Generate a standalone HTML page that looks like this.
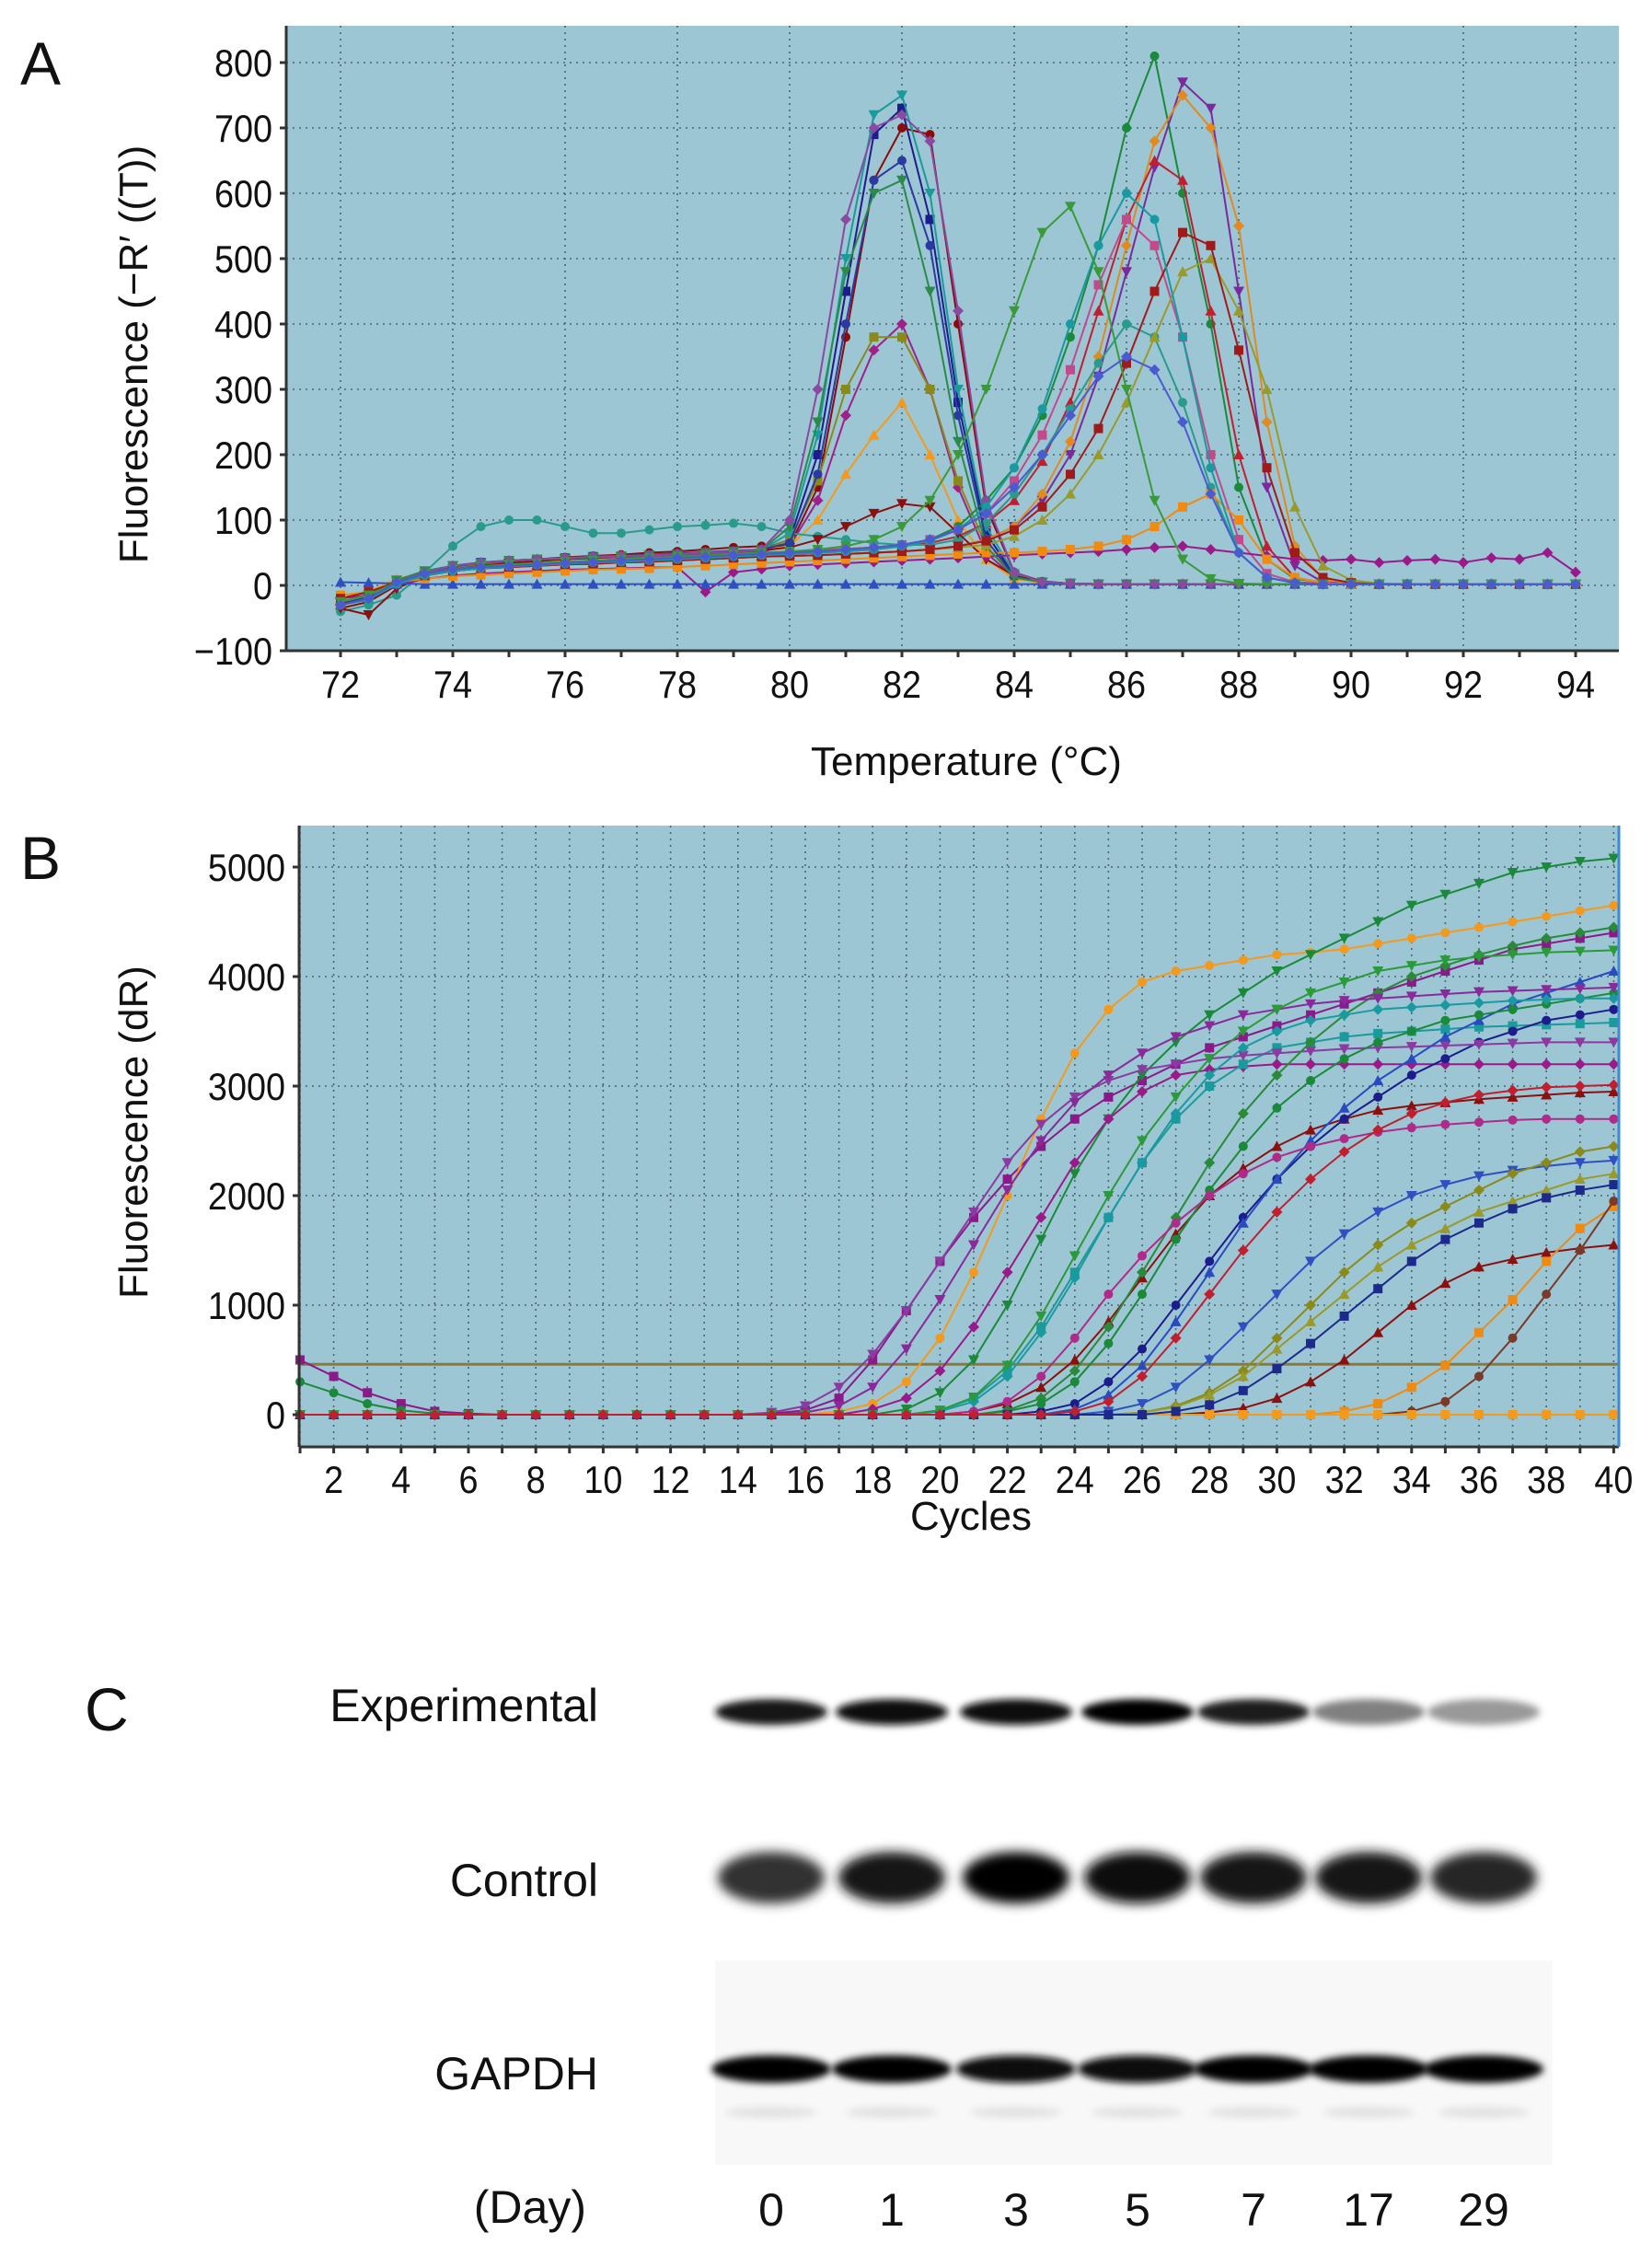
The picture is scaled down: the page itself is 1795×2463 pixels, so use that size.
<!DOCTYPE html>
<html><head><meta charset="utf-8">
<style>
html,body{margin:0;padding:0;background:#fff;}
body{width:1795px;height:2458px;position:relative;overflow:hidden;font-family:"Liberation Sans",sans-serif;}
svg text{font-family:"Liberation Sans",sans-serif;fill:#111;}
</style></head>
<body>
<svg id="fig" width="1795" height="2458" viewBox="0 0 1795 2458" xmlns="http://www.w3.org/2000/svg">
  <defs>
    <filter id="blur3" x="-20%" y="-50%" width="140%" height="200%"><feGaussianBlur stdDeviation="4"/></filter>
    <filter id="blur6" x="-20%" y="-50%" width="140%" height="200%"><feGaussianBlur stdDeviation="6"/></filter>
  </defs>
  <text x="22" y="92" font-size="66">A</text>
  <text x="22" y="955" font-size="66">B</text>
  <text x="92" y="1880" font-size="66">C</text>
  <g id="chartA"></g>
  <g id="chartB"></g>
  <g id="blot"></g>
</svg>
<script>
// ---------- Chart A data (melt curves) ----------
const tempStart = 72, tempStep = 0.5;
const tickA_x = [72,74,76,78,80,82,84,86,88,90,92,94];
const tickA_y = [-100,0,100,200,300,400,500,600,700,800];
const meltColors = ['#1c1c8c','#8b0a0a','#1a9a9a','#a0208a','#f39a1e','#8a8a1a','#1a8a3a','#7a2a9a','#e08a20','#c01f2f','#c04a8a','#2a9a8a','#8b1010','#9a1a8a','#3050c0','#f08a10','#2a3aa0','#2a8a4a','#8a4aa0','#9a9a2a','#a01a1a','#1a9aa0','#3a9a3a','#4a5ad0'];
const melt1 = [-30,-20,5,20,30,35,38,40,42,44,45,46,48,50,52,55, 70,200,450,690,730,560,280,80,15,5,3,2,2,2,2,2,2,2,2,2,2,2,2,2,2,2,2,2,2];
const melt2 = [-35,-25,0,18,28,33,36,40,43,45,47,50,52,55,58,60, 60,150,380,620,700,690,400,120,20,6,3,2,2,2,2,2,2,2,2,2,2,2,2,2,2,2,2,2,2];
const melt3 = [-25,-15,8,22,30,34,38,40,41,43,44,46,47,50,52,54, 80,230,500,720,750,600,300,90,18,5,3,2,2,2,2,2,2,2,2,2,2,2,2,2,2,2,2,2,2];
const melt4 = [-30,-20,4,18,28,32,35,38,40,42,43,45,46,48,50,52, 60,130,260,360,400,300,150,50,12,4,2,2,2,2,2,2,2,2,2,2,2,2,2,2,2,2,2,2,2];
const melt5 = [-20,-10,10,20,28,32,35,38,40,42,44,46,48,50,52,54, 60,100,170,230,280,200,100,40,10,4,2,2,2,2,2,2,2,2,2,2,2,2,2,2,2,2,2,2,2];
const melt6 = [-28,-18,5,20,28,33,36,39,41,43,45,46,48,50,52,54, 70,160,300,380,380,300,160,60,15,5,2,2,2,2,2,2,2,2,2,2,2,2,2,2,2,2,2,2,2];
const melt7 = [-30,-20,5,18,25,28,30,32,34,36,38,40,42,44,46,48, 50,52,55,58,62,70,90,130,180,260,380,520,700,810,600,400,150,40,10,5,3,2,2,2,2,2,2,2,2];
const melt8 = [-25,-15,5,15,22,26,28,30,32,33,35,36,38,40,42,44, 45,46,48,50,52,55,60,70,90,130,200,320,480,640,770,730,450,150,30,5,3,2,2,2,2,2,2,2,2];
const melt9 = [-20,-10,5,15,22,26,28,30,32,33,35,36,38,40,42,44, 45,46,48,50,52,55,60,70,90,140,220,350,520,680,750,700,550,250,60,10,3,2,2,2,2,2,2,2,2];
const melt10 = [-30,-22,2,15,22,26,29,31,33,35,36,38,40,42,44,46, 48,50,52,55,60,65,75,95,130,190,280,420,560,650,620,420,200,60,12,4,2,2,2,2,2,2,2,2,2];
const melt11 = [-25,-15,5,18,25,29,32,34,36,38,40,42,44,46,48,50, 52,54,56,58,62,70,85,110,160,230,330,460,560,520,380,200,70,18,5,3,2,2,2,2,2,2,2,2,2];
const melt12 = [-40,-30,-15,20,60,90,100,100,90,80,80,85,90,92,95,90, 80,75,70,65,62,62,70,95,140,200,270,340,400,380,280,150,50,12,4,2,2,2,2,2,2,2,2,2,2];
const melt13 = [-35,-45,-5,15,25,30,34,37,40,42,44,46,48,50,52,54, 58,70,90,110,125,120,80,40,15,5,3,2,2,2,2,2,2,2,2,2,2,2,2,2,2,2,2,2,2];
const melt14 = [-20,-15,0,10,15,18,20,22,24,25,26,27,28,-10,20,25, 30,32,34,36,38,40,42,44,46,48,50,52,55,58,60,55,50,45,40,38,40,35,38,40,35,42,40,50,20];
const melt15 = [5,4,3,2,2,2,2,2,2,2,2,2,2,2,2,2, 2,2,2,2,2,2,2,2,2,2,2,2,2,2,2,2,2,2,2,2,2,2,2,2,2,2,2,2,2];
const melt16 = [-15,-10,5,10,14,16,18,20,22,24,25,26,28,30,32,34, 36,38,40,42,44,46,48,50,50,52,55,60,70,90,120,140,100,40,12,4,2,2,2,2,2,2,2,2,2];
const melt17 = [-28,-18,6,20,29,34,37,40,42,44,45,47,49,51,53,55, 65,170,400,620,650,520,260,70,14,5,3,2,2,2,2,2,2,2,2,2,2,2,2,2,2,2,2,2,2];
const melt18 = [-25,-15,8,22,30,34,38,40,41,43,44,46,47,50,52,54, 90,250,480,600,620,450,220,60,12,5,3,2,2,2,2,2,2,2,2,2,2,2,2,2,2,2,2,2,2];
const melt19 = [-30,-20,5,20,30,35,38,40,42,44,45,46,48,50,52,55, 100,300,560,700,720,680,420,130,20,5,3,2,2,2,2,2,2,2,2,2,2,2,2,2,2,2,2,2,2];
const melt20 = [-25,-15,5,15,22,26,28,30,32,33,35,36,38,40,42,44, 45,46,48,50,52,55,58,62,75,100,140,200,280,380,480,500,420,300,120,30,8,3,2,2,2,2,2,2,2];
const melt21 = [-20,-10,5,15,22,26,28,30,32,33,35,36,38,40,42,44, 45,46,48,50,52,55,60,68,85,120,170,240,340,450,540,520,360,180,50,12,4,2,2,2,2,2,2,2,2];
const melt22 = [-30,-22,2,15,22,26,29,31,33,35,36,38,40,42,44,46, 48,50,52,55,60,68,85,120,180,270,400,520,600,560,380,180,50,12,4,2,2,2,2,2,2,2,2,2,2];
const melt23 = [-25,-15,5,18,25,29,32,34,36,38,40,42,44,46,48,50, 52,55,60,70,90,130,200,300,420,540,580,480,300,130,40,10,3,2,2,2,2,2,2,2,2,2,2,2,2];
const melt24 = [-30,-20,5,18,25,28,30,32,34,36,38,40,42,44,46,48, 50,52,55,58,62,70,85,110,150,200,260,320,350,330,250,140,50,12,4,2,2,2,2,2,2,2,2,2,2];
const meltSeries = [melt1,melt2,melt3,melt4,melt5,melt6,melt7,melt8,melt9,melt10,melt11,melt12,melt13,melt14,melt15,melt16,melt17,melt18,melt19,melt20,melt21,melt22,melt23,melt24];

// ---------- Chart B data (amplification curves) ----------
const tickB_x = [2,4,6,8,10,12,14,16,18,20,22,24,26,28,30,32,34,36,38,40];
const tickB_y = [0,1000,2000,3000,4000,5000];
const thresholdValue = 460;
const ampColors = ['#8a1a8a','#f39a1e','#1a8a3a','#9a1a8a','#8b1010','#1a9a9a','#1c1c8c','#3050c0','#8a8a1a','#8b1010','#f08a10','#7a3a2a','#8a3aa0','#2a8a3a','#2a4ac0','#f39a1e','#1a8a3a','#8a2a9a','#1a9aa0','#9a9a2a','#1c2a8c','#b02a8a','#2a9a3a','#c01f2f'];
const amp1 = [500,350,200,100,30,10,0,0,0,0,0,0,0,0,10,40,150,500,950,1400,1800,2150,2450,2700,2900,3050,3200,3350,3450,3550,3650,3750,3850,3950,4050,4150,4250,4300,4350,4400];
const amp2 = [0,0,0,0,0,0,0,0,0,0,0,0,0,0,0,0,30,100,300,700,1300,2000,2700,3300,3700,3950,4050,4100,4150,4200,4220,4250,4300,4350,4400,4450,4500,4550,4600,4650];
const amp3 = [0,0,0,0,0,0,0,0,0,0,0,0,0,0,0,0,0,0,50,200,500,1000,1600,2200,2700,3100,3400,3650,3850,4050,4200,4350,4500,4650,4750,4850,4950,5000,5050,5080];
const amp4 = [0,0,0,0,0,0,0,0,0,0,0,0,0,0,0,0,0,50,150,400,800,1300,1800,2300,2700,2950,3100,3150,3180,3200,3200,3200,3200,3200,3200,3200,3200,3200,3200,3200];
const amp5 = [0,0,0,0,0,0,0,0,0,0,0,0,0,0,0,0,0,0,0,0,30,100,250,500,850,1250,1650,2000,2250,2450,2600,2700,2780,2820,2850,2880,2900,2920,2940,2950];
const amp6 = [0,0,0,0,0,0,0,0,0,0,0,0,0,0,0,0,0,0,0,40,150,400,800,1300,1800,2300,2700,3000,3200,3350,3400,3450,3480,3500,3520,3540,3550,3560,3570,3580];
const amp7 = [0,0,0,0,0,0,0,0,0,0,0,0,0,0,0,0,0,0,0,0,0,0,30,100,300,600,1000,1400,1800,2150,2450,2700,2900,3100,3250,3400,3500,3600,3650,3700];
const amp8 = [0,0,0,0,0,0,0,0,0,0,0,0,0,0,0,0,0,0,0,0,0,0,0,0,30,100,250,500,800,1100,1400,1650,1850,2000,2100,2180,2230,2270,2300,2320];
const amp9 = [0,0,0,0,0,0,0,0,0,0,0,0,0,0,0,0,0,0,0,0,0,0,0,0,0,20,80,200,400,700,1000,1300,1550,1750,1900,2050,2200,2300,2400,2450];
const amp10 = [0,0,0,0,0,0,0,0,0,0,0,0,0,0,0,0,0,0,0,0,0,0,0,0,0,0,0,20,60,150,300,500,750,1000,1200,1350,1420,1480,1520,1550];
const amp11 = [0,0,0,0,0,0,0,0,0,0,0,0,0,0,0,0,0,0,0,0,0,0,0,0,0,0,0,0,0,0,0,30,100,250,450,750,1050,1400,1700,1900];
const amp12 = [0,0,0,0,0,0,0,0,0,0,0,0,0,0,0,0,0,0,0,0,0,0,0,0,0,0,0,0,0,0,0,0,0,30,120,350,700,1100,1500,1950];
const amp13 = [0,0,0,0,0,0,0,0,0,0,0,0,0,0,20,80,250,550,950,1400,1850,2300,2650,2900,3050,3150,3200,3250,3280,3300,3320,3340,3350,3360,3370,3380,3390,3400,3400,3400];
const amp14 = [0,0,0,0,0,0,0,0,0,0,0,0,0,0,0,0,0,0,0,0,0,40,150,400,800,1300,1800,2300,2750,3100,3400,3650,3850,4000,4100,4200,4280,4350,4400,4450];
const amp15 = [0,0,0,0,0,0,0,0,0,0,0,0,0,0,0,0,0,0,0,0,0,0,0,50,180,450,850,1300,1750,2150,2500,2800,3050,3250,3450,3600,3750,3850,3950,4050];
const amp16 = [0,0,0,0,0,0,0,0,0,0,0,0,0,0,0,0,0,0,0,0,0,0,0,0,0,0,0,0,0,0,0,0,0,0,0,0,0,0,0,0];
const amp17 = [300,200,100,40,10,0,0,0,0,0,0,0,0,0,0,0,0,0,0,0,0,30,100,300,650,1100,1600,2050,2450,2800,3050,3250,3400,3500,3600,3650,3700,3750,3800,3850];
const amp18 = [0,0,0,0,0,0,0,0,0,0,0,0,0,0,0,20,80,250,600,1050,1550,2050,2500,2850,3100,3300,3450,3550,3650,3700,3750,3780,3800,3820,3840,3860,3870,3880,3890,3900];
const amp19 = [0,0,0,0,0,0,0,0,0,0,0,0,0,0,0,0,0,0,0,30,120,350,750,1250,1800,2300,2750,3100,3350,3500,3600,3650,3700,3720,3740,3760,3780,3790,3800,3800];
const amp20 = [0,0,0,0,0,0,0,0,0,0,0,0,0,0,0,0,0,0,0,0,0,0,0,0,0,20,70,180,350,600,850,1100,1350,1550,1700,1850,1950,2050,2150,2200];
const amp21 = [0,0,0,0,0,0,0,0,0,0,0,0,0,0,0,0,0,0,0,0,0,0,0,0,0,0,30,90,220,420,650,900,1150,1400,1600,1750,1880,1980,2050,2100];
const amp22 = [0,0,0,0,0,0,0,0,0,0,0,0,0,0,0,0,0,0,0,0,30,120,350,700,1100,1450,1750,2000,2200,2350,2450,2520,2580,2620,2650,2670,2690,2700,2700,2700];
const amp23 = [0,0,0,0,0,0,0,0,0,0,0,0,0,0,0,0,0,0,0,40,160,450,900,1450,2000,2500,2900,3250,3500,3700,3850,3950,4050,4100,4150,4180,4200,4220,4230,4240];
const amp24 = [0,0,0,0,0,0,0,0,0,0,0,0,0,0,0,0,0,0,0,0,0,0,0,30,120,350,700,1100,1500,1850,2150,2400,2600,2750,2850,2920,2960,2990,3000,3010];
const ampSeries = [amp1,amp2,amp3,amp4,amp5,amp6,amp7,amp8,amp9,amp10,amp11,amp12,amp13,amp14,amp15,amp16,amp17,amp18,amp19,amp20,amp21,amp22,amp23,amp24];

// ---------- Blot data ----------
const days = ['0','1','3','5','7','17','29'];
const expIntensity = [0.92,0.96,0.96,0.98,0.88,0.5,0.4];
const ctrlIntensity = [0.8,0.9,1.0,0.97,0.9,0.93,0.85];
const gapdhIntensity = [0.98,0.98,0.96,0.96,0.98,0.98,1.0];

const NS = 'http://www.w3.org/2000/svg';
function mk(tag, attrs, parent){ const e=document.createElementNS(NS,tag); for(const k in attrs) e.setAttribute(k,attrs[k]); parent.appendChild(e); return e; }

function marker(g, shape, x, y, color){
  let m;
  const s=5;
  if(shape===0) m=mk('rect',{x:x-s,y:y-s,width:2*s,height:2*s,fill:color},g);
  else if(shape===1) m=mk('circle',{cx:x,cy:y,r:s,fill:color},g);
  else if(shape===2) m=mk('polygon',{points:`${x-s-1},${y-s} ${x+s+1},${y-s} ${x},${y+s+1}`,fill:color},g);
  else if(shape===3) m=mk('polygon',{points:`${x},${y-s-1} ${x+s+1},${y} ${x},${y+s+1} ${x-s-1},${y}`,fill:color},g);
  else m=mk('polygon',{points:`${x-s-1},${y+s} ${x+s+1},${y+s} ${x},${y-s-1}`,fill:color},g);
  return m;
}

function buildChart(cfg){
  const g=document.getElementById(cfg.id);
  const {L,R,T,B}=cfg;
  const bg=mk('rect',{x:L,y:T,width:R-L,height:B-T,fill:'#9cc6d4'},g);
  
  
  cfg.gridX.forEach(v=>{const x=cfg.sx(v);const l=mk('line',{x1:x,y1:T,x2:x,y2:B,stroke:'#4a6470','stroke-width':1.6,'stroke-dasharray':'2 5'},g);
    
    });
  cfg.ticksY.forEach(v=>{const y=cfg.sy(v);const l=mk('line',{x1:L,y1:y,x2:R,y2:y,stroke:'#4a6470','stroke-width':1.6,'stroke-dasharray':'2 5'},g);
    
    });
  if(cfg.threshold!==undefined){
    const y=cfg.sy(cfg.threshold);
    const th=mk('line',{x1:L,y1:y,x2:R,y2:y,stroke:'#8a7a3a','stroke-width':3},g);
    
    
  }
  cfg.series.forEach((arr,i)=>{
    const sg=mk('g',{},g);
    
    
    const col=cfg.colors[i%cfg.colors.length];
    const pts=arr.map((v,j)=>[cfg.sx(cfg.xOf(j)),cfg.sy(v)]);
    const pl=mk('polyline',{points:pts.map(p=>p[0].toFixed(1)+','+p[1].toFixed(1)).join(' '),fill:'none',stroke:col,'stroke-width':2},sg);
    
    
    pts.forEach(p=>{const m=marker(sg,i%5,p[0],p[1],col);
      
      });
  });
  const ax=mk('line',{x1:L,y1:T,x2:L,y2:B,stroke:'#333','stroke-width':3},g);
  
  
  const bx=mk('line',{x1:L,y1:B,x2:R,y2:B,stroke:'#333','stroke-width':3},g);
  
  
  if(cfg.rightLine){const rl=mk('line',{x1:R,y1:T,x2:R,y2:B,stroke:'#3a8ad8','stroke-width':3},g);
    
    }
  cfg.ticksY.forEach(v=>{const y=cfg.sy(v);
    const t=mk('text',{x:cfg.yLabelX,y:y+15,'font-size':42,'text-anchor':'end',transform:`translate(${cfg.yLabelX},0) scale(0.9,1) translate(${-cfg.yLabelX},0)`},g);
    t.textContent=(v<0?'\u2212'+(-v):String(v));
    
    
    const tk=mk('line',{x1:L-7,y1:y,x2:L,y2:y,stroke:'#333','stroke-width':3},g);
    
    });
  cfg.minorX.forEach(v=>{const x=cfg.sx(v);const tk=mk('line',{x1:x,y1:B,x2:x,y2:B+7,stroke:'#333','stroke-width':3},g);
    
    });
  cfg.ticksX.forEach(v=>{const x=cfg.sx(v);
    const t=mk('text',{x:x,y:cfg.xLabelY,'font-size':42,'text-anchor':'middle',transform:`translate(${x},0) scale(0.9,1) translate(${-x},0)`},g);
    t.textContent=String(v);
    
    });
  const xt=mk('text',{x:cfg.xTitle[0],y:cfg.xTitle[1],'font-size':44,'text-anchor':'middle'},g);
  xt.textContent=cfg.xTitle[2];
  
  
  const yt=mk('text',{x:0,y:0,'font-size':44,'text-anchor':'middle',transform:`translate(${cfg.yTitle[0]},${cfg.yTitle[1]}) rotate(-90)`},g);
  yt.textContent=cfg.yTitle[2];
  
  
}

(function(){
  const minorA=[]; for(let t=72;t<=94;t+=1) minorA.push(t);
  buildChart({id:'chartA',L:311,R:1759,T:28,B:707,
    sx:v=>370+(v-72)*61, sy:v=>636-v*0.71,
    xOf:j=>tempStart+j*tempStep,
    gridX:tickA_x, ticksX:tickA_x, ticksY:tickA_y, minorX:minorA,
    series:meltSeries, colors:meltColors,
    yLabelX:296, xLabelY:758,
    xTitle:[1050,842,'Temperature (\u00B0C)'], yTitle:[160,385,'Fluorescence (\u2212R\u2032 ((T))']});
})();
(function(){
  const cyc=[]; for(let c=1;c<=40;c++) cyc.push(c);
  buildChart({id:'chartB',L:325,R:1759,T:897,B:1572,
    sx:v=>326+(v-1)*36.6, sy:v=>1537-v*0.119,
    xOf:j=>j+1,
    gridX:cyc, ticksX:tickB_x, ticksY:tickB_y, minorX:cyc,
    series:ampSeries, colors:ampColors, threshold:thresholdValue, rightLine:true,
    yLabelX:310, xLabelY:1622,
    xTitle:[1055,1662,'Cycles'], yTitle:[160,1230,'Fluorescence (dR)']});
})();

(function(){
  const g=document.getElementById('blot');
  const laneX=[838,969,1104,1236,1362,1487,1612];
  const labels=[['Experimental',1870],['Control',2060],['GAPDH',2270],['(Day)',2415]];
  const names=['experimental-label','control-label','gapdh-label','day-label'];
  labels.forEach((l,i)=>{const t=mk('text',{x:i===3?637:650,y:l[1],'font-size':50,'text-anchor':'end'},g);
    t.textContent=l[0];
    
    });
  const bgG=mk('rect',{x:777,y:2130,width:910,height:222,fill:'#f8f8f8'},g);
  
  
  function row(intens,cy,h,w,filt,name){
    intens.forEach((v,i)=>{const c=Math.round(255*(1-v));
      const e=mk('ellipse',{cx:laneX[i],cy:cy,rx:w/2,ry:h/2,fill:`rgb(${c},${c},${c})`,filter:filt},g);
      
      });
  }
  row(expIntensity,1860,28,122,'url(#blur3)','experimental');
  row(ctrlIntensity,2040,56,116,'url(#blur6)','control');
  row(gapdhIntensity,2248,30,130,'url(#blur3)','gapdh');
  laneX.forEach((x,i)=>{
    const f=mk('ellipse',{cx:x,cy:2295,rx:50,ry:6,fill:'#e2e2e2',filter:'url(#blur3)'},g);
    
    
    const t=mk('text',{x:x,y:2418,'font-size':50,'text-anchor':'middle'},g);
    t.textContent=days[i];
    
    
  });
})();
</script>
</body></html>
